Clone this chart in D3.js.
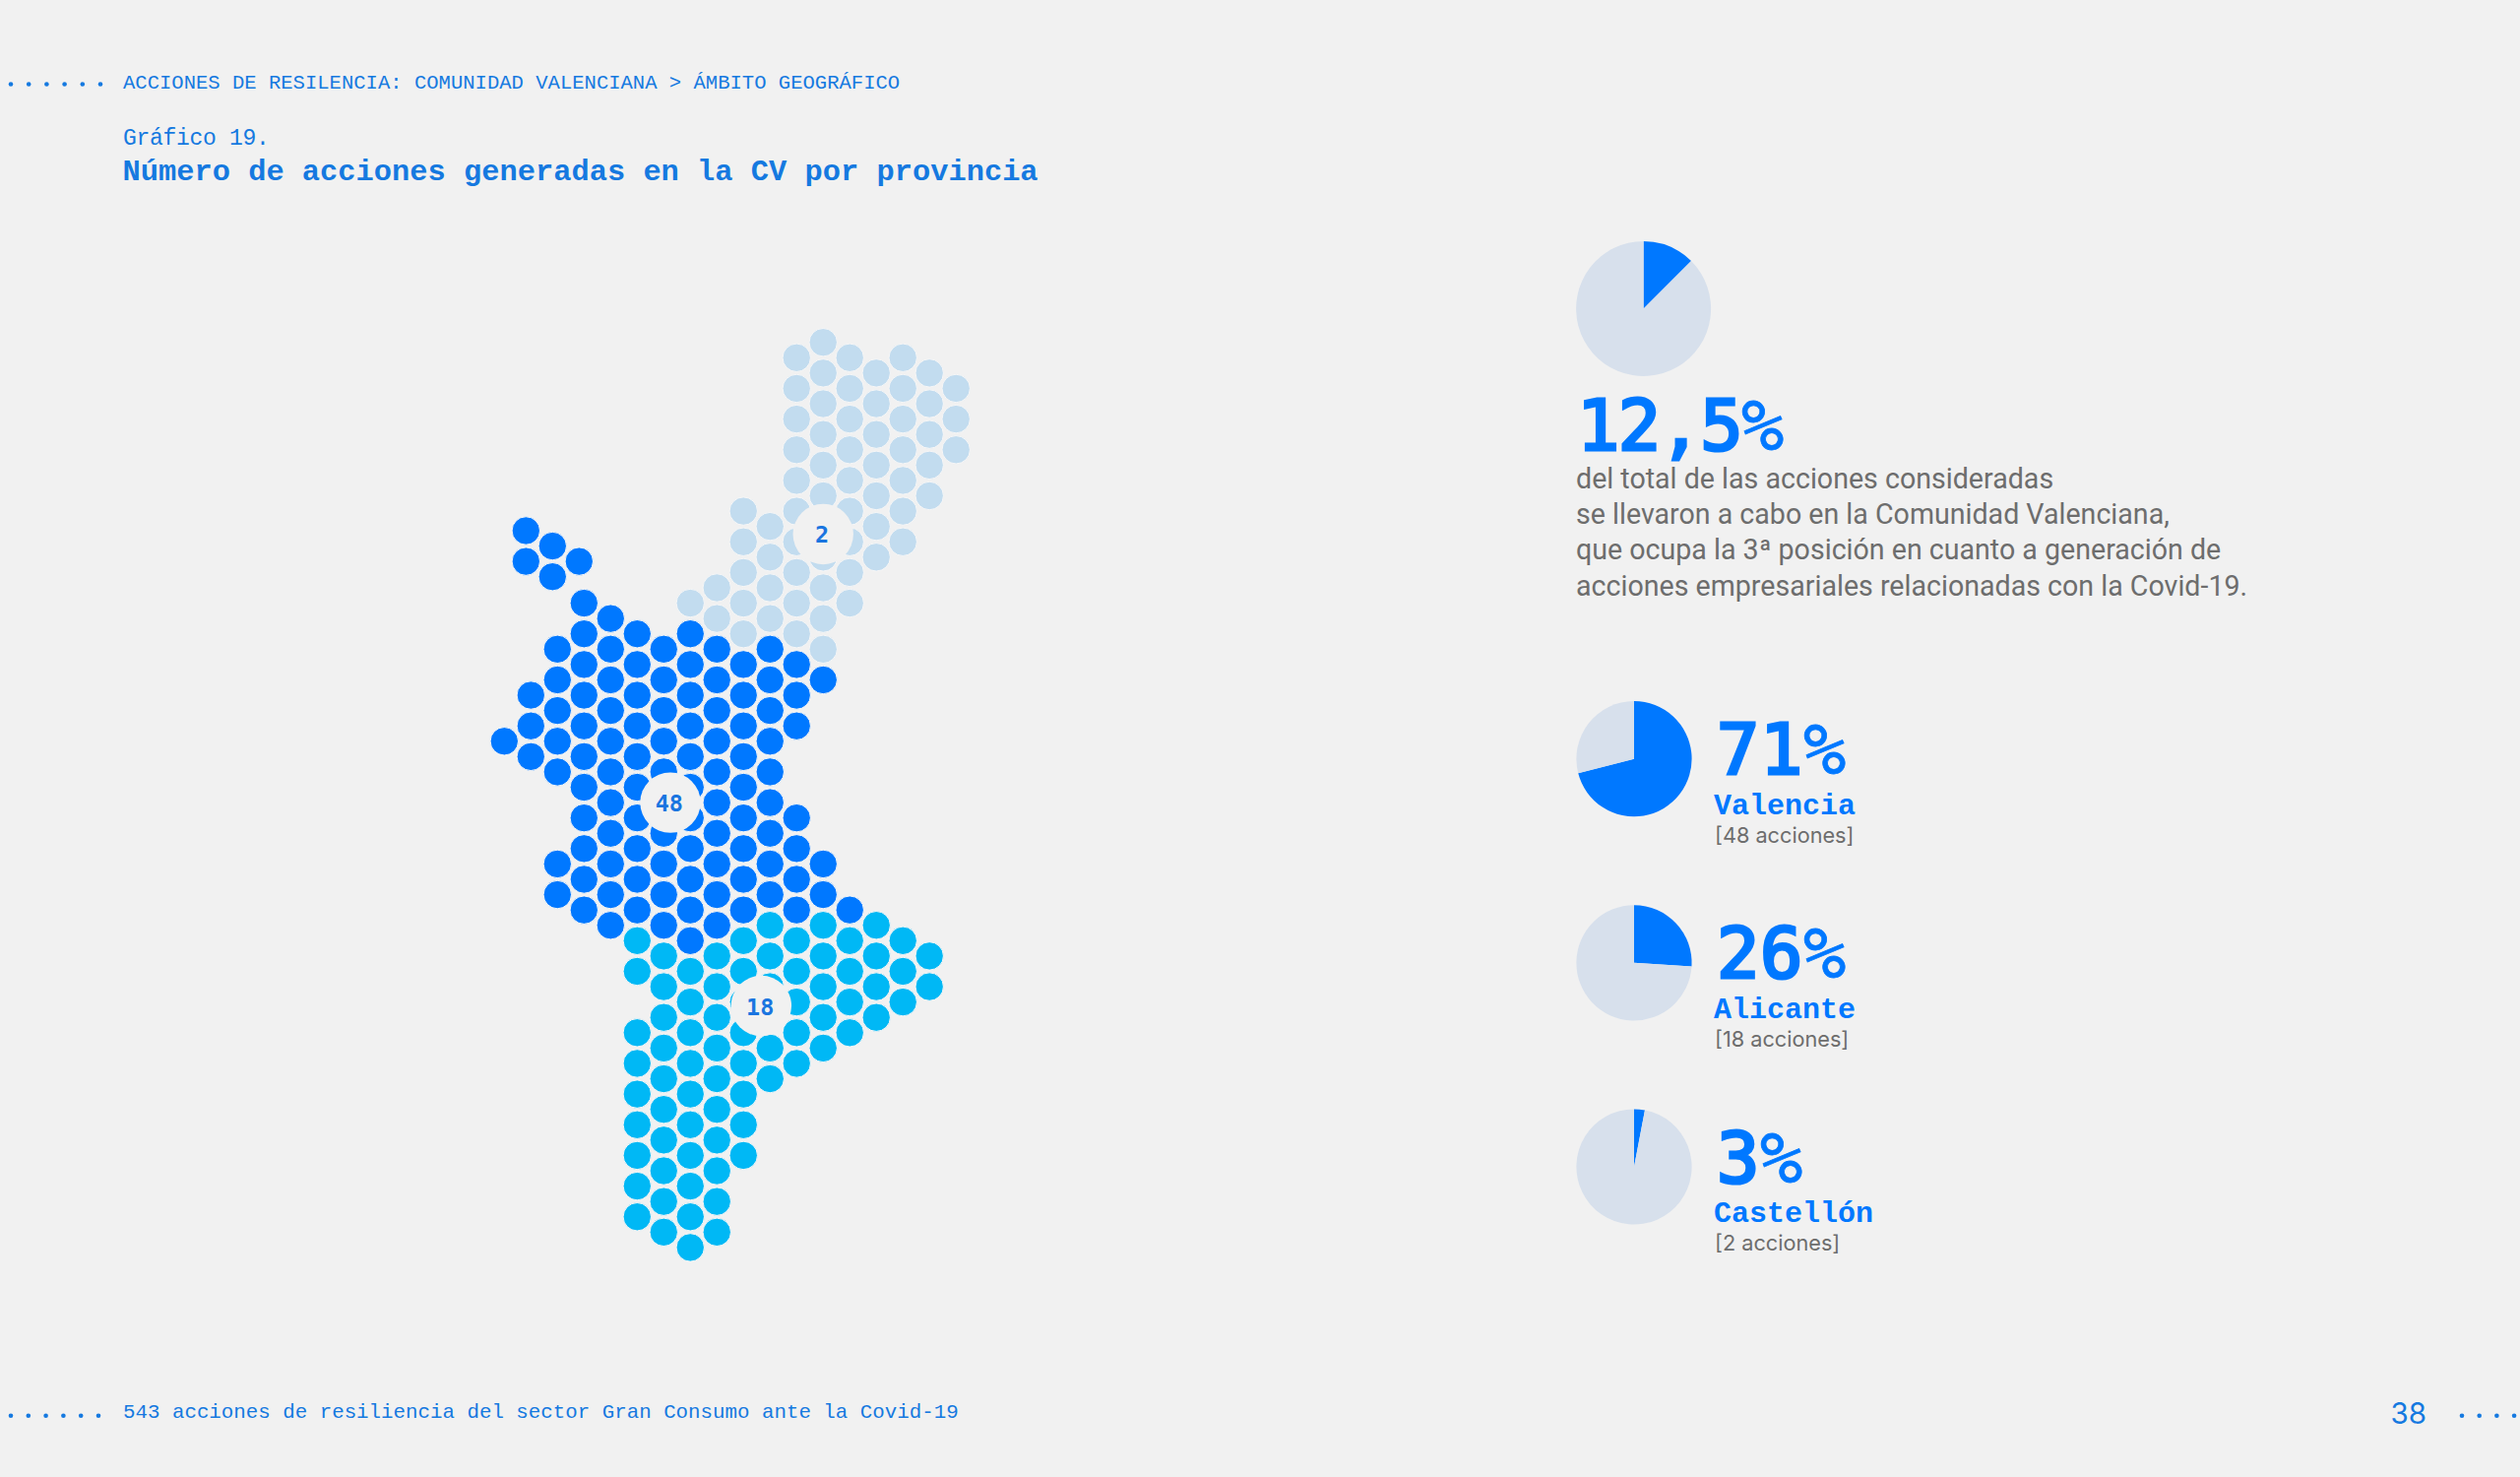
<!DOCTYPE html>
<html>
<head>
<meta charset="utf-8">
<script src="https://cdn.jsdelivr.net/npm/d3@7"></script>
<style>
  body { margin: 0; background: #f1f1f1; }
  svg { display: block; }
</style>
</head>
<body>
<svg width="2560" height="1500" viewBox="0 0 2560 1500"></svg>
<script>
// provinces: grid cells of the dot map, [column, rows in that column]
const castellonCells = [
  [7, [17]], [8, [16, 18]], [9, [11, 13, 15, 17, 19]], [10, [12, 14, 16, 18]],
  [11, [1, 3, 5, 7, 9, 11, 13, 15, 17, 19]], [12, [0, 2, 4, 6, 8, 10, 12, 14, 16, 18, 20]],
  [13, [1, 3, 5, 7, 9, 11, 13, 15, 17]], [14, [2, 4, 6, 8, 10, 12, 14]],
  [15, [1, 3, 5, 7, 9, 11, 13]], [16, [2, 4, 6, 8, 10]], [17, [3, 5, 7]]
];
const valenciaCells = [
  [0, [26]], [1, [23, 25, 27]], [2, [20, 22, 24, 26, 28, 34, 36]],
  [3, [17, 19, 21, 23, 25, 27, 29, 31, 33, 35, 37]],
  [4, [18, 20, 22, 24, 26, 28, 30, 32, 34, 36, 38]],
  [5, [19, 21, 23, 25, 27, 29, 31, 33, 35, 37]],
  [6, [20, 22, 24, 26, 28, 30, 32, 34, 36, 38]],
  [7, [19, 21, 23, 25, 27, 29, 31, 33, 35, 37, 39]],
  [8, [20, 22, 24, 26, 28, 30, 32, 34, 36, 38]],
  [9, [21, 23, 25, 27, 29, 31, 33, 35, 37]],
  [10, [20, 22, 24, 26, 28, 30, 32, 34, 36]],
  [11, [21, 23, 25, 31, 33, 35, 37]], [12, [22, 34, 36]], [13, [37]]
];
const rincon = [[1, [12, 14]], [2, [13, 15]], [3, [14]]];
const alicanteCells = [
  [5, [39, 41, 45, 47, 49, 51, 53, 55, 57]],
  [6, [40, 42, 44, 46, 48, 50, 52, 54, 56, 58]],
  [7, [41, 43, 45, 47, 49, 51, 53, 55, 57, 59]],
  [8, [40, 42, 44, 46, 48, 50, 52, 54, 56, 58]],
  [9, [39, 41, 43, 45, 47, 49, 51, 53]], [10, [38, 40, 42, 44, 46, 48]],
  [11, [39, 41, 43, 45, 47]], [12, [38, 40, 42, 44, 46]], [13, [39, 41, 43, 45]],
  [14, [38, 40, 42, 44]], [15, [39, 41, 43]], [16, [40, 42]]
];

// labels on the map
const mapLabels = ["2", "48", "18"];
const mapLabelCols = [12, 6.25, 9.67];
const mapLabelRows = [12.5, 30, 43.25];

// pies
const provinces = ["Valencia", "Alicante", "Castellón"];
const provinceShare = [71, 26, 3];
const provinceActions = ["[48 acciones]", "[18 acciones]", "[2 acciones]"];
const cvShare = 12.5;
const cvShareLabel = "12,5";
const cvText = [
  "del total de las acciones consideradas",
  "se llevaron a cabo en la Comunidad Valenciana,",
  "que ocupa la 3ª posición en cuanto a generación de",
  "acciones empresariales relacionadas con la Covid-19."
];

const blue = "#0078ff", cyan = "#00b8f5", paleBlue = "#c2dcef", pieBack = "#d7e0ec";
const textBlue = "#1579e0", grey = "#6d6d6d", bg = "#f1f1f1";
const mono = "'Liberation Mono', monospace";
const bigMono = "'DejaVu Sans Mono', monospace";

const svg = d3.select("svg");

// flatten [col, rows] to one point per dot
const flat = cells => cells.flatMap(c => c[1].map(r => ({ col: c[0], row: r })));

const xScale = d3.scaleLinear().domain([0, 17]).range([512.3, 971.2]);
const yScale = d3.scaleLinear().domain([0, 59]).range([347.7, 1266.9]);

function drawDots(cells, colour, dx, dy) {
  svg.append("g")
    .attr("transform", `translate(${dx},${dy})`)
    .selectAll("circle")
    .data(flat(cells))
    .join("circle")
    .attr("cx", d => xScale(d.col))
    .attr("cy", d => yScale(d.row))
    .attr("r", 14.2)
    .attr("fill", colour)
    .attr("stroke", "#f7f7f7")
    .attr("stroke-width", 1);
}

drawDots(castellonCells, paleBlue, 0, 0);
drawDots(valenciaCells, blue, 0, 0);
drawDots(alicanteCells, cyan, 0, 0);
drawDots(rincon, blue, -5, 4.3);

// map labels
const labelG = svg.append("g").selectAll("g")
  .data(mapLabels)
  .join("g")
  .attr("transform", (d, i) => `translate(${xScale(mapLabelCols[i])},${yScale(mapLabelRows[i])})`);
labelG.append("circle").attr("r", 30.7).attr("fill", bg);
labelG.append("text")
  .attr("text-anchor", "middle")
  .attr("x", -1.2)
  .attr("y", 9)
  .attr("font-family", bigMono)
  .attr("font-weight", 700)
  .attr("font-size", 23.5)
  .attr("fill", "#1a75e0")
  .text(d => d);

// pies
const pie = d3.pie().sort(null).value(d => d);
function drawPie(cx, cy, r, share) {
  const arc = d3.arc().innerRadius(0).outerRadius(r);
  svg.append("g")
    .attr("transform", `translate(${cx},${cy})`)
    .selectAll("path")
    .data(pie([share, 100 - share]))
    .join("path")
    .attr("d", arc)
    .attr("fill", (d, i) => i === 0 ? blue : pieBack);
}

function addText(x, y, txt, family, size, weight, colour, spacing) {
  return svg.append("text")
    .attr("x", x).attr("y", y)
    .attr("font-family", family)
    .attr("font-size", size)
    .attr("font-weight", weight)
    .attr("fill", colour)
    .attr("letter-spacing", spacing || 0)
    .text(txt);
}

// big figures: regular weight thickened with a stroke, the % stays thin
function addFigure(x, y, num, spacing) {
  const t = addText(x, y, "", bigMono, 72, 400, blue, spacing);
  t.append("tspan").attr("stroke", blue).attr("stroke-width", 3.2).text(num);
  t.append("tspan").attr("stroke", blue).attr("stroke-width", 0.8).text("%");
}

drawPie(1669.6, 313.5, 68.5, cvShare);
addFigure(1602, 456.7, cvShareLabel, -1.6);
const cvBase = d3.scalePoint().domain(d3.range(cvText.length)).range([496.2, 604.5]);
cvText.forEach((line, i) => addText(1601, cvBase(i), line, "Roboto, sans-serif", 28.6, 400, grey, 0));

const pieY = d3.scalePoint().domain(provinces).range([770.7, 1185]);
provinces.forEach((p, i) => {
  const y = pieY(p);
  drawPie(1660, y, 58.6, provinceShare[i]);
  addFigure(1744, y + 15.5, provinceShare[i], 0.6);
  addText(1741, y + 56, p, mono, 30, 700, blue, 0);
  addText(1742, y + 85, provinceActions[i], "Inter, sans-serif", 21.7, 400, grey, 0);
});

// header, title, footer
addText(125, 90, "ACCIONES DE RESILENCIA: COMUNIDAD VALENCIANA > ÁMBITO GEOGRÁFICO", mono, 20.55, 400, textBlue, 0);
addText(125, 147.3, "Gráfico 19.", mono, 23, 400, textBlue, -0.3);
addText(124.5, 183, "Número de acciones generadas en la CV por provincia", mono, 30.4, 700, textBlue, 0);
addText(125, 1440, "543 acciones de resiliencia del sector Gran Consumo ante la Covid-19", mono, 20.8, 400, textBlue, 0);
addText(2428.5, 1446, "38", "Inter, sans-serif", 29.5, 400, textBlue, 0);

// leader dots
function leader(x0, step, n, y) {
  svg.append("g").selectAll("circle")
    .data(d3.range(n))
    .join("circle")
    .attr("cx", d => x0 + d * step)
    .attr("cy", y)
    .attr("r", 2.3)
    .attr("fill", textBlue);
}
leader(11, 18.2, 6, 85.5);
leader(11, 17.8, 6, 1437.7);
leader(2501, 17.7, 4, 1437.7);
</script>
</body>
</html>
